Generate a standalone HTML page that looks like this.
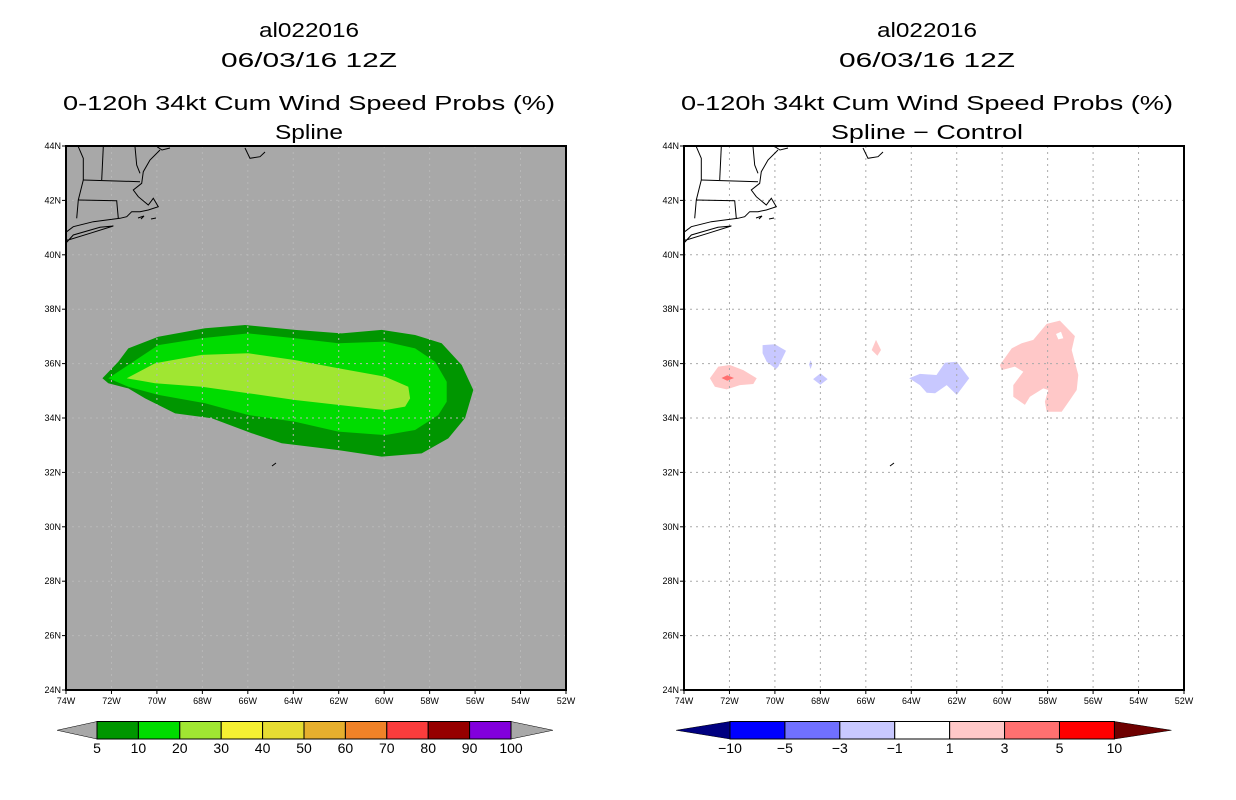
<!DOCTYPE html>
<html><head><meta charset="utf-8"><style>
body{margin:0;background:#fff;}
svg{display:block;font-family:"Liberation Sans",sans-serif;}
</style></head><body>
<svg id="c" width="1236" height="800" viewBox="0 0 1236 800"></svg>
<script>
const NS='http://www.w3.org/2000/svg';
// ---- data ----
const lonTicks=[-74,-72,-70,-68,-66,-64,-62,-60,-58,-56,-54,-52];
const latTicks=[24,26,28,30,32,34,36,38,40,42,44];
const probLevels=['5','10','20','30','40','50','60','70','80','90','100'];
const probColors=['#009600','#00dc00','#a0e632','#f5f032','#e6dc32','#e6af2d','#f08228','#fa3c3c','#960000','#8200dc'];
const diffLevels=['\u221210','\u22125','\u22123','\u22121','1','3','5','10'];
const diffColors=['#0000ff','#7070ff','#c8c8ff','#ffffff','#ffc8c8','#ff7070','#ff0000'];
const prob5=[[-72.4,35.46],[-71.7,36.07],[-71.26,36.56],[-69.94,36.99],[-67.88,37.3],[-66.12,37.42],[-63.92,37.24],[-61.87,37.11],[-60.11,37.24],[-58.64,37.05],[-57.47,36.75],[-56.59,35.95],[-56.08,35.03],[-56.44,34.0],[-57.18,33.25],[-58.35,32.7],[-60.11,32.58],[-62.02,32.82],[-64.51,33.07],[-65.83,33.44],[-67.59,33.99],[-69.2,34.17],[-70.52,34.72],[-71.26,35.09],[-72.14,35.28]];
const prob10=[[-72.14,35.46],[-71.26,35.95],[-69.94,36.68],[-68.03,36.93],[-65.98,37.11],[-63.92,36.93],[-62.02,36.75],[-59.96,36.81],[-58.64,36.56],[-57.76,36.07],[-57.25,35.33],[-57.25,34.6],[-57.62,34.11],[-58.64,33.56],[-59.96,33.37],[-62.02,33.5],[-63.92,33.86],[-65.98,34.11],[-67.88,34.54],[-69.94,34.85],[-71.26,35.15]];
const prob20=[[-71.33,35.46],[-70.08,36.01],[-68.03,36.32],[-65.98,36.38],[-63.92,36.13],[-62.02,35.83],[-59.96,35.52],[-58.94,35.15],[-58.86,34.72],[-59.08,34.42],[-59.96,34.29],[-62.02,34.48],[-63.92,34.66],[-65.98,34.91],[-68.03,35.15],[-70.08,35.28]];
const diffPink1=[[-72.86,35.46],[-72.49,35.89],[-71.98,35.95],[-71.39,35.76],[-70.8,35.46],[-70.95,35.25],[-71.54,35.21],[-72.12,35.05],[-72.64,35.15]];
const diffRed1=[[-72.35,35.47],[-72.1,35.57],[-71.8,35.47],[-72.1,35.37]];
const diffBlue1=[[-70.54,36.68],[-70.0,36.71],[-69.51,36.47],[-69.85,35.89],[-69.95,35.8],[-70.36,36.07],[-70.54,36.38]];
const diffBlue2=[[-68.43,36.12],[-68.36,35.97],[-68.43,35.8],[-68.5,35.97]];
const diffBlue3=[[-68.32,35.43],[-68.0,35.64],[-67.68,35.43],[-68.0,35.22]];
const diffPink2=[[-65.55,36.87],[-65.33,36.5],[-65.49,36.29],[-65.74,36.5]];
const diffBlue4=[[-64.09,35.46],[-63.62,35.62],[-62.89,35.58],[-62.52,36.03],[-62.0,36.07],[-61.45,35.46],[-62.0,34.85],[-62.44,35.21],[-62.95,34.91],[-63.32,34.93],[-63.62,35.21]];
const diffPink3=[[-60.1,35.95],[-59.58,36.56],[-59.14,36.75],[-58.63,36.87],[-58.04,37.46],[-57.46,37.58],[-56.8,37.01],[-56.94,36.5],[-56.65,35.58],[-56.72,35.03],[-57.02,34.66],[-57.38,34.23],[-58.04,34.23],[-58.12,34.6],[-57.97,35.03],[-58.19,35.09],[-58.78,34.78],[-59.0,34.48],[-59.51,34.78],[-59.51,35.21],[-59.07,35.7],[-59.44,35.89],[-60.02,35.76]];
const diffHole=[[-57.63,37.09],[-57.41,37.17],[-57.31,36.93],[-57.53,36.89]];

const svg=document.getElementById('c');
function el(tag,attrs,parent){const e=document.createElementNS(NS,tag);for(const k in attrs)e.setAttribute(k,attrs[k]);(parent||svg).appendChild(e);return e;}
const FW=500,FT=146,FB=690;
function xS(x0,lon){return x0+(lon+74)/22*FW;}
function yS(lat){return FB-(lat-24)/20*(FB-FT);}
function poly(x0,pts){return pts.map(p=>xS(x0,p[0]).toFixed(1)+','+yS(p[1]).toFixed(1)).join(' ');}

const coast=[
 [[78.3,146.7],[83.3,158.3],[83.3,180],[78.3,200],[76.7,218.3]],
 [[83.3,180],[140,181.7]],
 [[103.3,146.7],[101.7,180]],
 [[135,146.7],[136.7,165],[140,173.3]],
 [[160,150],[150,160],[143.3,171.7],[141.7,183.3],[133.3,190],[138.3,196.7],[148.3,205],[153.3,198.3],[158.3,206.7],[148.3,210],[140,211.7],[131.7,211.7],[126.7,216.7],[120,218.3],[93.3,221.7],[73.3,226.7],[66.7,231.7]],
 [[78.3,200],[116.7,200.7],[118.3,218.3]],
 [[66,240],[68.3,240],[90,233.3],[113.3,226],[100,227.3],[73.3,235],[66,243]],
 [[157,146.7],[162,150],[170,148]],
 [[245,148],[250,158.3],[260,156.7],[265,152]],
 [[138,218],[144,216],[141,219]],[[151,219],[156,218]],
 [[272,466],[276,463]]
];

function panel(x0,opt){
  const g=el('g',{});
  el('rect',{x:x0,y:FT,width:FW,height:FB-FT,fill:opt.bg},g);
  opt.fills(g);
  // grid
  const gg=el('g',{stroke:opt.grid,'stroke-width':1,'stroke-dasharray':'2,4',fill:'none'},g);
  
  
  lonTicks.slice(1,-1).forEach(l=>el('line',{x1:xS(x0,l),x2:xS(x0,l),y1:FT,y2:FB},gg));
  latTicks.slice(1,-1).forEach(l=>el('line',{x1:x0,x2:x0+FW,y1:yS(l),y2:yS(l)},gg));
  // coast
  const cg=el('g',{stroke:'#000','stroke-width':1,fill:'none'},g);
  
  
  coast.forEach(c=>el('polyline',{points:c.map(p=>(p[0]-66+x0)+','+p[1]).join(' ')},cg));
  el('rect',{x:x0,y:FT,width:FW,height:FB-FT,fill:'none',stroke:'#000','stroke-width':2},g);
  // ticks
  lonTicks.forEach(l=>{const x=xS(x0,l);
    el('line',{x1:x,x2:x,y1:FB,y2:FB+4,stroke:'#000'},g);
    const t=el('text',{x:x,y:FB+14,'font-size':9,'text-anchor':'middle'},g);
    
    
    t.textContent=Math.abs(l)+'W';});
  latTicks.forEach(l=>{const y=yS(l);
    el('line',{x1:x0-4,x2:x0,y1:y,y2:y,stroke:'#000'},g);
    const t=el('text',{x:x0-5,y:y+3,'font-size':9,'text-anchor':'end'},g);
    
    
    t.textContent=l+'N';});
  // titles
  const cx=x0+FW/2-7;
  [[opt.t1,37,'title-storm-id'],[opt.t2,67,'title-date'],[opt.t3,110,'title-product'],[opt.t4,139,'subtitle']].forEach(a=>{
    const t=el('text',{x:cx,y:a[1],'font-size':20,'text-anchor':'middle'},g);
    
    
    t.textContent=a[0];
    const w={'al022016':100,'06/03/16 12Z':176,'0-120h 34kt Cum Wind Speed Probs (%)':492,'Spline':68,'Spline \u2212 Control':192}[a[0]];
    if(w){t.setAttribute('textLength',w);t.setAttribute('lengthAdjust','spacingAndGlyphs');}
  });
}

panel(66,{name:'left-map-panel',bg:'#a8a8a8',grid:'#b8b8b8',
 t1:'al022016',t2:'06/03/16 12Z',t3:'0-120h 34kt Cum Wind Speed Probs (%)',t4:'Spline',
 fills:g=>{
  [[prob5,probColors[0],'contour-5pct'],[prob10,probColors[1],'contour-10pct'],[prob20,probColors[2],'contour-20pct']].forEach(a=>{
   const p=el('polygon',{points:poly(66,a[0]),fill:a[1]},g);
   
   });
 }});
panel(684,{name:'right-map-panel',bg:'#ffffff',grid:'#aaaaaa',
 t1:'al022016',t2:'06/03/16 12Z',t3:'0-120h 34kt Cum Wind Speed Probs (%)',t4:'Spline \u2212 Control',
 fills:g=>{
  [[diffPink1,'#ffc8c8','diff-pos-72w'],[diffRed1,'#ff7070','diff-pos3-72w'],[diffBlue1,'#c8c8ff','diff-neg-70w'],[diffBlue2,'#c8c8ff','diff-neg-68w-a'],[diffBlue3,'#c8c8ff','diff-neg-68w-b'],[diffPink2,'#ffc8c8','diff-pos-65w'],[diffBlue4,'#c8c8ff','diff-neg-62w'],[diffPink3,'#ffc8c8','diff-pos-57w'],[diffHole,'#ffffff','diff-hole-57w']].forEach(a=>{
   const p=el('polygon',{points:poly(684,a[0]),fill:a[1]},g);
   
   });
 }});

// colorbars
function colorbar(name,x0,x1,tipL,tipR,colors,labels,lc,rc){
  const g=el('g',{});
  const y0=721.5,y1=739,ym=(y0+y1)/2,n=colors.length,w=(x1-x0)/n;
  el('polygon',{points:`${tipL},${ym} ${x0},${y0} ${x0},${y1}`,fill:lc,stroke:'#000','stroke-width':0.5},g);
  el('polygon',{points:`${tipR},${ym} ${x1},${y0} ${x1},${y1}`,fill:rc,stroke:'#000','stroke-width':0.5},g);
  colors.forEach((c,i)=>{const r=el('rect',{x:x0+i*w,y:y0,width:w,height:y1-y0,fill:c,stroke:'#000','stroke-width':1},g);
    
    });
  labels.forEach((l,i)=>{const t=el('text',{x:x0+i*w,y:753,'font-size':14,'text-anchor':'middle'},g);
    
    
    t.textContent=l;});
}
colorbar('probability-colorbar',97,511,57,553,probColors,probLevels,'#a8a8a8','#a8a8a8');
colorbar('difference-colorbar',730,1114.4,676,1171.5,diffColors,diffLevels,'#000080','#6e0000');
</script>
</body></html>
